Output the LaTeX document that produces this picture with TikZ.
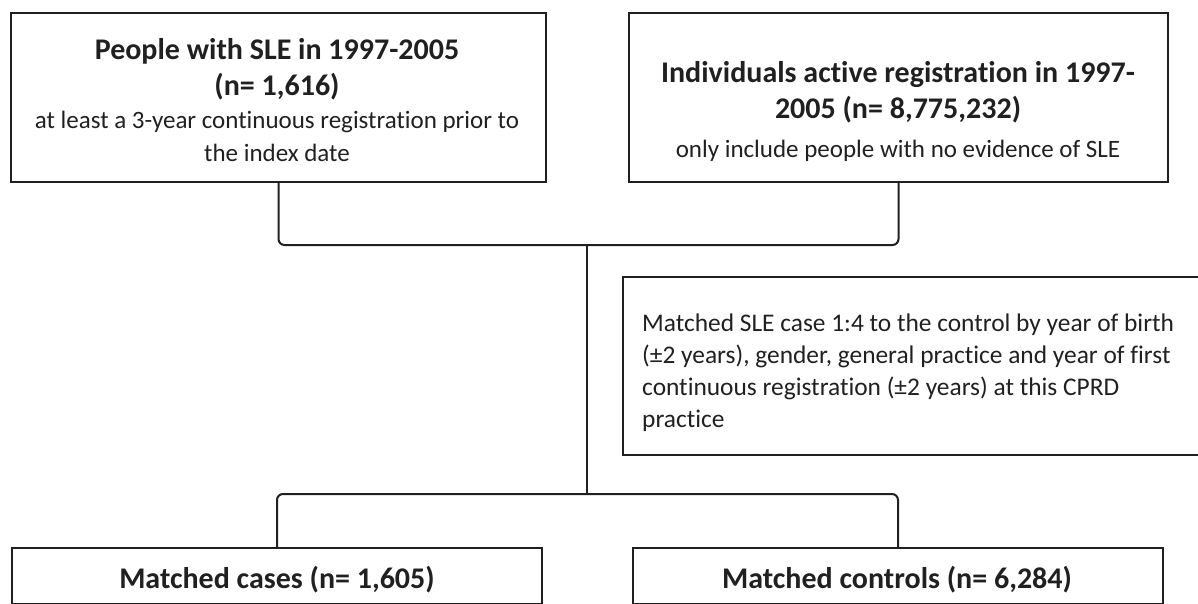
\documentclass[tikz,border=0pt]{standalone}
\usepackage{fontspec}
\setmainfont{Carlito}[Ligatures={NoCommon,NoRequired,NoContextual}]
\definecolor{ink}{HTML}{202020}
\begin{document}
\begin{tikzpicture}[x=1pt,y=-1pt,
  box/.style={draw=ink, line width=2pt, inner sep=0pt, anchor=north west},
  conn/.style={draw=ink, line width=2pt, rounded corners=6pt},
  ttl/.style={font=\fontsize{30}{36}\selectfont\bfseries, text=ink, inner sep=0pt, anchor=base},
  txt/.style={font=\fontsize{25}{30}\selectfont, text=ink, inner sep=0pt, anchor=base},
  txl/.style={font=\fontsize{25.4}{32}\selectfont, text=ink, inner sep=0pt, anchor=base west}]
\useasboundingbox (0,0) rectangle (1198,604);
\clip (0,0) rectangle (1198,604);
% boxes
\node[box, minimum width=535pt, minimum height=169pt] (sle) at (10,12) {};
\node[box, minimum width=539pt, minimum height=169pt] (pop) at (628,12) {};
\node[box, minimum width=600pt, minimum height=178pt] (match) at (622,276) {};
\node[box, minimum width=530pt, minimum height=56pt] (cases) at (11,547) {};
\node[box, minimum width=530pt, minimum height=56pt] (ctrl) at (632,547) {};
% texts
\node[ttl] (t1) at (277,60) {People with SLE in 1997-2005};
\node[ttl] (t2) at (277,96) {(n= 1,616)};
\node[txt] (t3) at (277,129) {at least a 3-year continuous registration prior to};
\node[txt] (t4) at (277,161) {the index date};
\node[ttl] (r1) at (898,83) {Individuals active registration in 1997-};
\node[ttl] (r2) at (898,119) {2005 (n= 8,775,232)};
\node[txt] (r3) at (898,158) {only include people with no evidence of SLE};
\node[txl] (m1) at (642,331) {Matched SLE case 1:4 to the control by year of birth};
\node[txl] (m2) at (642,363) {(±2 years), gender, general practice and year of first};
\node[txl] (m3) at (642,395) {continuous registration (±2 years) at this CPRD};
\node[txl] (m4) at (642,427) {practice};
\node[ttl] (c1) at (277,588) {Matched cases (n= 1,605)};
\node[ttl] (c2) at (897,588) {Matched controls (n= 6,284)};
% connectors
\coordinate (j1) at (587,245);
\coordinate (j2) at (587,494);
\draw[conn] (sle.south) |- (j1) -| (pop.south);
\draw[conn] (cases.north) |- (j2) -| (ctrl.north);
\draw[draw=ink, line width=2pt] (j1) -- (j2);
\end{tikzpicture}
\end{document}
